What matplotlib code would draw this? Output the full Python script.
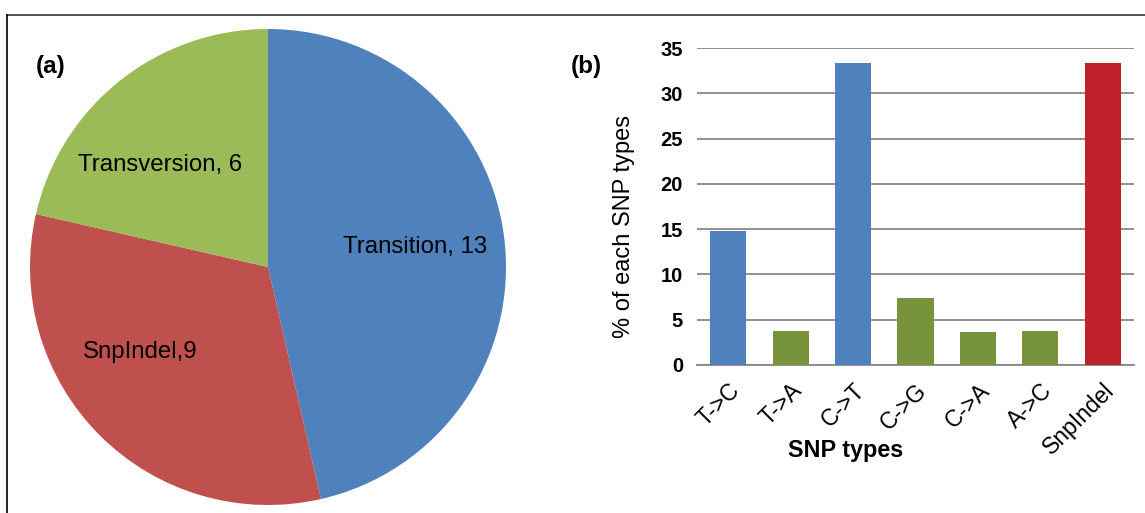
import matplotlib
matplotlib.use("Agg")
import matplotlib.pyplot as plt
from matplotlib.lines import Line2D

plt.rcParams['font.family'] = ['Liberation Sans', 'DejaVu Sans']

# Pie data
pie_labels = ["Transition, 13", "SnpIndel,9", "Transversion, 6"]
pie_values = [13, 9, 6]
pie_colors = ["#4F81BD", "#C0504D", "#9BBB59"]

# Bar data
categories = ["T->C", "T->A", "C->T", "C->G", "C->A", "A->C", "SnpIndel"]
percentages = [14.8, 3.7, 33.3, 7.4, 3.6, 3.7, 33.3]
bar_colors = ["#4F81BD", "#77933C", "#4F81BD", "#77933C", "#77933C", "#77933C", "#C0202A"]
yticks = [0, 5, 10, 15, 20, 25, 30, 35]

W, H = 1145, 513
fig = plt.figure(figsize=(W / 100, H / 100), dpi=100)

# Outer border (top and left visible)
fig.add_artist(Line2D([7 / W, 1], [1 - 15 / H, 1 - 15 / H], transform=fig.transFigure,
                      color="#333333", lw=1.2))
fig.add_artist(Line2D([7 / W, 7 / W], [0, 1 - 15 / H], transform=fig.transFigure,
                      color="#000000", lw=1.2))

# Pie
cx, cy, r = 268, 267, 238
axp = fig.add_axes([(cx - r) / W, (H - cy - r) / H, 2 * r / W, 2 * r / H])
wedges, _ = axp.pie(pie_values, colors=pie_colors, startangle=90, counterclock=False,
                    radius=1.0)
axp.set_xlim(-1, 1)
axp.set_ylim(-1, 1)
axp.set_aspect('auto')
axp.axis('off')

def to_ax(px, py):
    return ((px - cx) / r, (cy - py) / r)

label_pos = [(415, 247), (140, 352), (160, 165)]
for lab, (px, py) in zip(pie_labels, label_pos):
    x, y = to_ax(px, py)
    axp.text(x, y, lab, ha='center', va='center', fontsize=17.3, color='black')

fig.text(51 / W, 1 - 66 / H, "(a)", fontsize=17.5, fontweight='bold', ha='center', va='center')
fig.text(586 / W, 1 - 66 / H, "(b)", fontsize=17.5, fontweight='bold', ha='center', va='center')

# Bar chart
left, right, bottom, top = 697, 1134, 365, 48
axb = fig.add_axes([left / W, 1 - bottom / H, (right - left) / W, (bottom - top) / H])
xs = range(len(categories))
axb.bar(xs, percentages, color=bar_colors, width=0.58, zorder=3)
axb.set_xlim(-0.5, len(categories) - 0.5)
axb.set_ylim(0, 35)
axb.set_yticks(yticks)
axb.set_yticklabels([str(t) for t in yticks], fontsize=14.5, fontweight='bold')
axb.set_xticks(list(xs))
axb.set_xticklabels(categories, rotation=45, ha='right', rotation_mode='anchor', fontsize=16.5)
axb.tick_params(axis='both', length=0)
axb.tick_params(axis='y', pad=10)
axb.tick_params(axis='x', pad=10)
axb.grid(axis='y', color='#888888', lw=1.3, zorder=0)
for s in ['top', 'right', 'left']:
    axb.spines[s].set_visible(False)
axb.spines['bottom'].set_color('#888888')
axb.spines['bottom'].set_linewidth(1.3)
fig.text(624 / W, 1 - 226 / H, "% of each SNP types", fontsize=17, rotation=90,
         ha='center', va='center')
fig.text(846 / W, 1 - 450 / H, "SNP types", fontsize=16.8, fontweight='bold',
         ha='center', va='center')

fig.savefig("out.png", dpi=100)
